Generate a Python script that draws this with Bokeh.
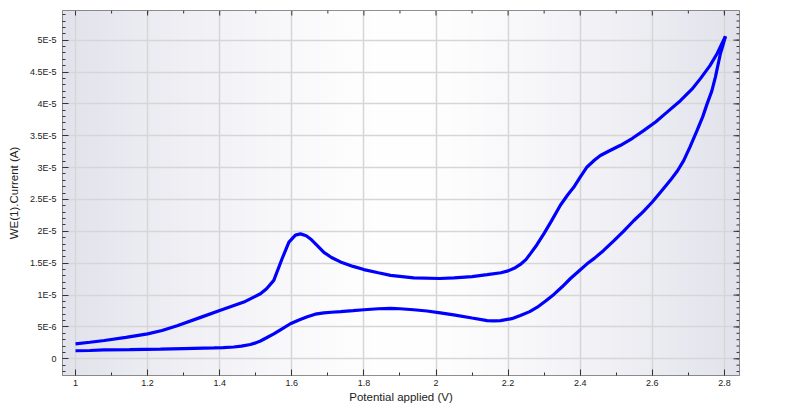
import numpy as np
from bokeh.plotting import figure
from bokeh.models import Range1d, FixedTicker
from bokeh.embed import file_html
from bokeh.resources import INLINE

# Forward scan (upper branch), potential in V, current in A
potential_fwd = [1.000, 1.040, 1.080, 1.140, 1.200, 1.240, 1.282, 1.347, 1.402, 1.467,
                 1.513, 1.530, 1.550, 1.573, 1.592, 1.610, 1.624, 1.640, 1.652, 1.670,
                 1.689, 1.710, 1.735, 1.770, 1.800, 1.840, 1.874, 1.938, 2.010, 2.050,
                 2.100, 2.142, 2.180, 2.200, 2.220, 2.234, 2.250, 2.262, 2.280, 2.299,
                 2.320, 2.345, 2.365, 2.382, 2.400, 2.419, 2.440, 2.456, 2.480, 2.512,
                 2.545, 2.576, 2.610, 2.641, 2.678, 2.710, 2.734, 2.760, 2.780, 2.803]
current_fwd = [2.35e-6, 2.60e-6, 2.87e-6, 3.35e-6, 3.92e-6, 4.45e-6, 5.2e-6, 6.5e-6, 7.6e-6, 8.9e-6,
               1.02e-5, 1.10e-5, 1.23e-5, 1.57e-5, 1.83e-5, 1.94e-5, 1.96e-5, 1.93e-5, 1.88e-5, 1.78e-5,
               1.67e-5, 1.59e-5, 1.52e-5, 1.45e-5, 1.40e-5, 1.35e-5, 1.31e-5, 1.27e-5, 1.26e-5, 1.27e-5,
               1.29e-5, 1.32e-5, 1.35e-5, 1.38e-5, 1.43e-5, 1.48e-5, 1.56e-5, 1.65e-5, 1.79e-5, 1.96e-5,
               2.16e-5, 2.41e-5, 2.57e-5, 2.69e-5, 2.85e-5, 3.01e-5, 3.12e-5, 3.19e-5, 3.26e-5, 3.35e-5,
               3.46e-5, 3.58e-5, 3.72e-5, 3.87e-5, 4.05e-5, 4.23e-5, 4.40e-5, 4.60e-5, 4.79e-5, 5.06e-5]

# Reverse scan (lower branch)
potential_rev = [2.803, 2.795, 2.789, 2.775, 2.765, 2.752, 2.740, 2.724, 2.705, 2.687,
                 2.670, 2.650, 2.625, 2.600, 2.575, 2.549, 2.520, 2.493, 2.465, 2.440,
                 2.419, 2.395, 2.373, 2.350, 2.327, 2.305, 2.281, 2.260, 2.234, 2.210,
                 2.179, 2.160, 2.142, 2.100, 2.049, 2.012, 1.975, 1.938, 1.900, 1.874,
                 1.840, 1.800, 1.770, 1.735, 1.710, 1.689, 1.665, 1.643, 1.620, 1.596,
                 1.573, 1.550, 1.530, 1.513, 1.500, 1.485, 1.460, 1.439, 1.410, 1.384,
                 1.300, 1.236, 1.150, 1.079, 1.040, 1.000]
current_rev = [5.06e-5, 4.90e-5, 4.79e-5, 4.42e-5, 4.20e-5, 4.00e-5, 3.80e-5, 3.58e-5, 3.33e-5, 3.11e-5,
               2.95e-5, 2.80e-5, 2.63e-5, 2.46e-5, 2.31e-5, 2.17e-5, 2.00e-5, 1.85e-5, 1.70e-5, 1.58e-5,
               1.49e-5, 1.37e-5, 1.26e-5, 1.13e-5, 1.01e-5, 9.1e-6, 8.1e-6, 7.4e-6, 6.8e-6, 6.3e-6,
               6.0e-6, 5.95e-6, 6.0e-6, 6.4e-6, 6.9e-6, 7.2e-6, 7.5e-6, 7.7e-6, 7.85e-6, 7.9e-6,
               7.85e-6, 7.7e-6, 7.55e-6, 7.4e-6, 7.3e-6, 7.2e-6, 7.0e-6, 6.6e-6, 6.1e-6, 5.5e-6,
               4.7e-6, 3.9e-6, 3.3e-6, 2.8e-6, 2.5e-6, 2.24e-6, 2.0e-6, 1.85e-6, 1.76e-6, 1.72e-6,
               1.6e-6, 1.51e-6, 1.45e-6, 1.41e-6, 1.3e-6, 1.26e-6]

x_ticks = [1.0, 1.2, 1.4, 1.6, 1.8, 2.0, 2.2, 2.4, 2.6, 2.8]
x_tick_labels = ["1", "1.2", "1.4", "1.6", "1.8", "2", "2.2", "2.4", "2.6", "2.8"]
y_ticks = [0.0, 5e-6, 1e-5, 1.5e-5, 2e-5, 2.5e-5, 3e-5, 3.5e-5, 4e-5, 4.5e-5, 5e-5]
y_tick_labels = ["0", "5E-6", "1E-5", "1.5E-5", "2E-5", "2.5E-5", "3E-5", "3.5E-5", "4E-5", "4.5E-5", "5E-5"]

x_minor = [0.9 + 0.1 * i for i in range(21)]
y_minor = [(i - 3) * 1e-6 for i in range(60)]

X0, X1 = 0.9639, 2.8419
Y0, Y1 = -0.262e-5, 5.465e-5
FW, FH = 677, 365

FONT = "Liberation Sans"
TXT = "#222222"

p = figure(frame_width=FW, frame_height=FH, output_backend="svg", toolbar_location=None,
           x_range=Range1d(X0, X1), y_range=Range1d(Y0, Y1),
           min_border_left=62, min_border_top=10, min_border_right=12, min_border_bottom=0,
           x_axis_label="Potential applied (V)", y_axis_label="WE(1).Current (A)")

p.background_fill_color = "white"
p.border_fill_color = "white"
p.outline_line_color = "#6a6a6a"
p.outline_line_width = 1

# background gradient (white centre, lavender grey edges)
nx = 400
xs = np.linspace(-1.0, 1.0, nx)
shade = np.abs(xs) ** 1.4
img = np.empty((1, nx), dtype=np.uint32)
view = img.view(dtype=np.uint8).reshape((1, nx, 4))
view[0, :, 0] = (255 - 29 * shade).astype(np.uint8)
view[0, :, 1] = (255 - 29 * shade).astype(np.uint8)
view[0, :, 2] = (255 - 19 * shade).astype(np.uint8)
view[0, :, 3] = 255
p.image_rgba(image=[img], x=X0, y=Y0, dw=X1 - X0, dh=Y1 - Y0, level="image")

xt = FixedTicker(ticks=x_ticks, minor_ticks=x_minor)
yt = FixedTicker(ticks=y_ticks, minor_ticks=y_minor)

for ax, tk, labels in ((p.xaxis[0], xt, x_tick_labels), (p.yaxis[0], yt, y_tick_labels)):
    ax.ticker = tk
    ax.major_label_overrides = {t: l for t, l in zip(tk.ticks, labels)}
    ax.major_tick_in = 6
    ax.major_tick_out = 0
    ax.minor_tick_in = 3
    ax.minor_tick_out = 0
    ax.major_tick_line_color = "#333333"
    ax.minor_tick_line_color = "#333333"
    ax.axis_line_color = None
    ax.major_label_text_font = FONT
    ax.major_label_text_font_size = "9px"
    ax.major_label_text_color = TXT
    ax.axis_label_text_font = FONT
    ax.axis_label_text_font_size = "11.5px"
    ax.axis_label_text_font_style = "normal"
    ax.axis_label_text_color = TXT

p.yaxis[0].major_label_standoff = 6
p.yaxis[0].axis_label_standoff = 7
p.xaxis[0].major_label_standoff = 4
p.xaxis[0].axis_label_standoff = 2

# tick marks on the top and right frame edges (inside)
dy_px = (Y1 - Y0) / FH
dx_px = (X1 - X0) / FW
top_major = list(x_ticks)
top_minor = [v for v in x_minor if X0 < v < X1 and v not in x_ticks]
p.segment(x0=top_major, y0=[Y1] * len(top_major), x1=top_major, y1=[Y1 - 5 * dy_px] * len(top_major),
          line_color="#333333", line_width=1)
p.segment(x0=top_minor, y0=[Y1] * len(top_minor), x1=top_minor, y1=[Y1 - 3 * dy_px] * len(top_minor),
          line_color="#333333", line_width=1)
r_major = list(y_ticks)
r_minor = [v for v in y_minor if Y0 < v < Y1]
p.segment(x0=[X1] * len(r_major), y0=r_major, x1=[X1 - 6 * dx_px] * len(r_major), y1=r_major,
          line_color="#333333", line_width=1)
p.segment(x0=[X1] * len(r_minor), y0=r_minor, x1=[X1 - 3 * dx_px] * len(r_minor), y1=r_minor,
          line_color="#333333", line_width=1)

p.xgrid.ticker = xt
p.ygrid.ticker = yt
p.xgrid.grid_line_color = "#d6d6d6"
p.ygrid.grid_line_color = "#d6d6d6"
p.xgrid.grid_line_width = 1.5
p.ygrid.grid_line_width = 1.5

p.line(potential_fwd, current_fwd, line_color="#0000ff", line_width=3.2)
p.line(potential_rev, current_rev, line_color="#0000ff", line_width=3.2)

open("out.html", "w").write(file_html(p, INLINE))
